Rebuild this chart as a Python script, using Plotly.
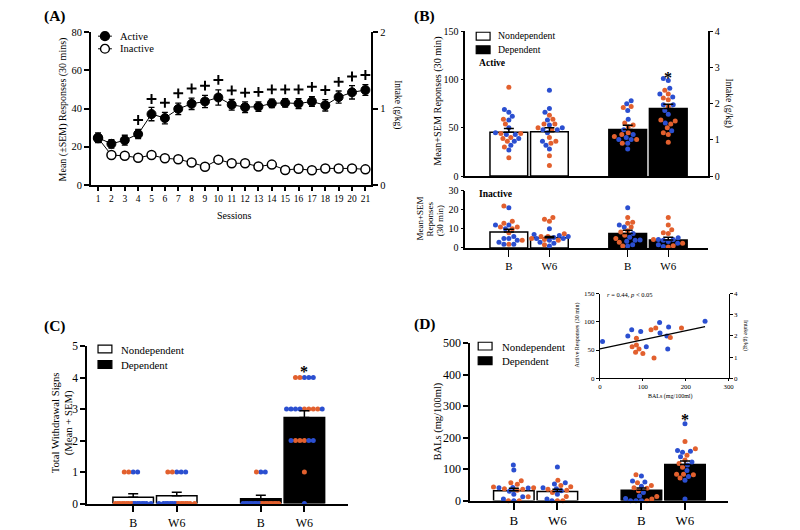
import numpy as np
import plotly.graph_objects as go

W, H = 800, 530
FONT = "Liberation Serif"
BLUE = "#2b4fd0"
ORANGE = "#e2602e"

# ---------------- Panel A data ----------------
SESSIONS = list(range(1, 22))
ACTIVE_MEAN = [24.7, 21.5, 23.4, 26.6, 37.1, 35.0, 39.8, 42.5, 43.7, 45.8, 42.0, 40.7,
               41.0, 42.7, 43.0, 42.6, 43.7, 41.7, 46.0, 48.5, 49.7]
ACTIVE_SEM = [2.5, 2.2, 2.6, 2.4, 3.5, 3.0, 3.0, 3.0, 3.2, 4.0, 2.8, 2.8, 2.5, 2.2,
              2.2, 2.6, 2.5, 3.0, 3.2, 3.5, 2.8]
INACTIVE_MEAN = [24.5, 15.6, 15.2, 14.2, 15.6, 13.9, 13.4, 11.7, 9.5, 13.2, 11.3, 11.3,
                 9.6, 10.6, 7.8, 8.4, 7.6, 8.6, 8.6, 8.6, 8.1]
INACTIVE_SEM = [1.5, 1.0, 1.0, 1.0, 1.2, 1.0, 1.0, 1.0, 1.0, 1.5, 1.0, 1.0, 0.8, 0.8,
                0.8, 0.8, 0.8, 0.8, 0.8, 0.8, 0.8]
PLUS_SESSIONS = list(range(4, 22))
PLUS_Y = [34, 45, 43, 48, 50.5, 52, 55, 49.5, 48.3, 48.7, 50, 50, 50, 51.4, 49.7, 54, 56.8, 57.6]

# ---------------- grouped bar panels ----------------
GROUP_LABELS = ["B", "W6", "B", "W6"]
GROUP_X = [0, 1, 2.93, 3.93]

# Panel B - active responses
B_ACT_MEAN = [45.3, 46.0, 48.3, 70.0]
B_ACT_SEM = [4.0, 4.0, 4.4, 4.5]
B_ACT_BLUE = [[69, 66, 62, 58, 50, 45, 43, 43, 39, 36, 32, 27],
              [89, 70, 66, 58, 53, 50, 48, 48, 45, 36, 32, 28],
              [78, 75, 68, 59, 48, 43, 40, 38, 38, 34, 28],
              [101, 99, 91, 85, 82, 74, 74, 68, 64, 55, 47]]
B_ACT_ORANGE = [[92, 59, 54, 44, 44, 40, 39, 36, 30, 19],
                [63, 59, 54, 54, 50, 48, 40, 36, 34, 21, 11],
                [72, 71, 55, 53, 51, 45, 43, 41, 38, 34],
                [89, 85, 81, 79, 72, 58, 57, 54, 50, 45, 43, 35]]
# Panel B - inactive responses
B_INA_MEAN = [8.4, 5.4, 7.6, 4.2]
B_INA_SEM = [1.4, 0.6, 1.7, 1.4]
B_INA_BLUE = [[21, 12, 12, 10, 6, 5, 5, 4, 3, 2, 2],
              [10, 7, 6.5, 6, 5.5, 5, 5, 4, 3, 2.5, 1],
              [21, 12, 11, 7.6, 5.6, 4.2, 4, 3.5, 1.7, 1],
              [5.4, 4.5, 4.5, 4, 3.4, 2.5, 1.7, 0.8]]
B_INA_ORANGE = [[22, 14, 13, 11, 11, 10, 8, 4, 2],
                [16, 15, 14, 7.5, 6, 6, 5, 4.5, 4, 1.7],
                [16, 13.5, 13, 11, 9, 8.4, 6.7, 5, 3, 1],
                [16, 12, 9.6, 8, 7.6, 4.5, 2.5, 1.2, 0.5]]

# Panel C - withdrawal signs
C_MEAN = [0.2, 0.25, 0.15, 2.73]
C_SEM = [0.11, 0.11, 0.11, 0.22]
C_BLUE = [[1, 1, 0, 0, 0, 0, 0, 0, 0, 0],
          [1, 1, 1, 0, 0, 0, 0, 0, 0, 0],
          [1, 1, 0, 0, 0, 0, 0, 0, 0, 0],
          [4, 4, 4, 3, 3, 3, 3, 3, 2, 2, 2, 0]]
C_ORANGE = [[1, 1, 0, 0, 0, 0, 0, 0, 0, 0],
            [1, 1, 0, 0, 0, 0, 0, 0, 0, 0],
            [1, 0, 0, 0, 0, 0, 0, 0, 0, 0],
            [4, 4, 3, 3, 3, 3, 2, 2, 2, 1]]

# Panel D - BALs
D_MEAN = [31, 29, 33, 115]
D_SEM = [8, 7, 7, 11]
D_BLUE = [[113, 97, 42, 40, 41, 30, 20, 12, 5, 0],
          [107, 57, 53, 41, 38, 31, 20, 5, 0],
          [78, 62, 59, 46, 26, 15, 7, 0, 0, 0],
          [244, 159, 157, 154, 139, 123, 113, 96, 77, 65, 5]]
D_ORANGE = [[63, 57, 52, 43, 41, 38, 36, 33, 12, 0, 0],
            [65, 48, 44, 36, 33, 26, 13, 0, 0],
            [82, 57, 48, 41, 39, 31, 13, 5, 0],
            [188, 165, 144, 129, 118, 106, 84, 84, 82, 72]]

# Inset correlation
INS_BLUE_X = [6, 65, 74, 95, 108, 139, 140, 156, 160, 158, 245]
INS_BLUE_Y = [65, 75, 86, 83, 56, 99, 80, 75, 91, 52, 101]
INS_ORANGE_X = [85, 75, 85, 91, 83, 100, 119, 130, 126, 164, 190]
INS_ORANGE_Y = [71, 56, 59, 52, 46, 44, 86, 89, 36, 72, 89]


def P(x, y):
    return x / W, 1 - y / H


def mix(blue, orange):
    vals, cols = [], []
    n = max(len(blue), len(orange))
    for i in range(n):
        if i < len(blue):
            vals.append(blue[i]); cols.append(BLUE)
        if i < len(orange):
            vals.append(orange[i]); cols.append(ORANGE)
    return vals, cols


def swarm(vals, xscale, yscale, d=5.2, half=20.0):
    n = len(vals)
    order = sorted(range(n), key=lambda i: vals[i])
    cands = np.arange(-half, half + 0.01, 0.5)
    cands = cands[np.argsort(np.abs(cands), kind="stable")]
    placed = []
    off = [0.0] * n
    for i in order:
        y = vals[i] * yscale
        chosen, best, bestd = None, 0.0, -1.0
        for c in cands:
            md = min((np.hypot(c - px, y - py) for px, py in placed), default=1e9)
            if md >= d:
                chosen = c
                break
            if md > bestd + 1e-9:
                bestd, best = md, c
        if chosen is None:
            chosen = best
        placed.append((chosen, y))
        off[i] = chosen / xscale
    return off


fig = go.Figure()

# ---------------- Panel A ----------------
fig.add_trace(go.Scatter(
    x=SESSIONS, y=INACTIVE_MEAN, mode="lines+markers", name="Inactive", showlegend=False,
    line=dict(color="black", width=1),
    marker=dict(symbol="circle", size=9, color="white", line=dict(color="black", width=1.5)),
    error_y=dict(type="data", array=INACTIVE_SEM, color="black", thickness=1.3, width=3),
    xaxis="x", yaxis="y"))
fig.add_trace(go.Scatter(
    x=SESSIONS, y=ACTIVE_MEAN, mode="lines+markers", name="Active", showlegend=False,
    line=dict(color="black", width=1),
    marker=dict(symbol="circle", size=9, color="black", line=dict(color="black", width=1)),
    error_y=dict(type="data", array=ACTIVE_SEM, color="black", thickness=1.3, width=3),
    xaxis="x", yaxis="y"))
fig.add_trace(go.Scatter(
    x=PLUS_SESSIONS, y=PLUS_Y, mode="markers", showlegend=False,
    marker=dict(symbol="cross-thin", size=7, line=dict(color="black", width=2)),
    xaxis="x", yaxis="y"))


def bar_panel(blues, oranges, means, sems, xa, ya, xscale, yscale, d, half, bwidth=0.93):
    fig.add_trace(go.Bar(
        x=GROUP_X[:2], y=means[:2], width=bwidth, name="Nondependent", showlegend=False,
        marker=dict(color="white", line=dict(color="black", width=1.5)),
        xaxis=xa, yaxis=ya))
    fig.add_trace(go.Bar(
        x=GROUP_X[2:], y=means[2:], width=bwidth, name="Dependent", showlegend=False,
        marker=dict(color="black", line=dict(color="black", width=1.5)),
        xaxis=xa, yaxis=ya))
    for gi in range(4):
        vals, cols = mix(blues[gi], oranges[gi])
        off = swarm(vals, xscale, yscale, d=d, half=half)
        fig.add_trace(go.Scatter(
            x=[GROUP_X[gi] + o for o in off], y=vals, mode="markers", showlegend=False,
            marker=dict(size=5, color=cols, line=dict(width=0)),
            xaxis=xa, yaxis=ya, cliponaxis=False))
    fig.add_trace(go.Scatter(
        x=GROUP_X, y=means, mode="markers", showlegend=False,
        marker=dict(size=1, color="rgba(0,0,0,0)"),
        error_y=dict(type="data", symmetric=False, array=sems, arrayminus=[0] * 4,
                     color="black", thickness=1.5, width=5),
        xaxis=xa, yaxis=ya, cliponaxis=False))


bar_panel(B_ACT_BLUE, B_ACT_ORANGE, B_ACT_MEAN, B_ACT_SEM, "x2", "y3", 41, 149 / 150, 5.2, 20)
bar_panel(B_INA_BLUE, B_INA_ORANGE, B_INA_MEAN, B_INA_SEM, "x3", "y5", 41, 59 / 30, 5.0, 20)
bar_panel(C_BLUE, C_ORANGE, C_MEAN, C_SEM, "x4", "y6", 44, 162 / 5, 4.5, 20)
bar_panel(D_BLUE, D_ORANGE, D_MEAN, D_SEM, "x5", "y7", 44, 162 / 500, 5.2, 22)

# Inset scatter + regression
fig.add_trace(go.Scatter(x=INS_BLUE_X, y=INS_BLUE_Y, mode="markers", showlegend=False,
                         marker=dict(size=5, color=BLUE), xaxis="x6", yaxis="y8"))
fig.add_trace(go.Scatter(x=INS_ORANGE_X, y=INS_ORANGE_Y, mode="markers", showlegend=False,
                         marker=dict(size=5, color=ORANGE), xaxis="x6", yaxis="y8"))
allx = np.array(INS_BLUE_X + INS_ORANGE_X, dtype=float)
ally = np.array(INS_BLUE_Y + INS_ORANGE_Y, dtype=float)
k, b = np.polyfit(allx, ally, 1)
lx = np.array([0, allx.max()])
fig.add_trace(go.Scatter(x=lx, y=k * lx + b, mode="lines", showlegend=False,
                         line=dict(color="black", width=1.3), xaxis="x6", yaxis="y8"))

# empty traces so the secondary (intake) axes get drawn
for xa, ya in [("x", "y2"), ("x2", "y4"), ("x6", "y9")]:
    fig.add_trace(go.Scatter(x=[None], y=[None], mode="markers", showlegend=False,
                             hoverinfo="skip", xaxis=xa, yaxis=ya))


def ax(fs=11, lw=1.6, tl=5, **kw):
    base = dict(showline=True, linecolor="black", linewidth=lw, ticks="outside",
                tickcolor="black", tickwidth=lw * 0.9, ticklen=tl, showgrid=False,
                zeroline=False, tickangle=0, fixedrange=True,
                tickfont=dict(family=FONT, size=fs, color="black"))
    base.update(kw)
    return base


def dom(p0, p1):
    return [p0 / W, p1 / W]


def vdom(top, bottom):
    return [1 - bottom / H, 1 - top / H]


layout = dict(
    width=W, height=H, margin=dict(l=0, r=0, t=0, b=0), showlegend=False,
    paper_bgcolor="white", plot_bgcolor="rgba(0,0,0,0)", barmode="overlay",
    font=dict(family=FONT, color="black", size=10),
    # Panel A
    xaxis=ax(9.5, 2.0, 4, domain=dom(90, 373), range=[0.48, 21.44], tickvals=SESSIONS, anchor="y"),
    yaxis=ax(10.5, 2.0, 5, domain=vdom(26, 183), range=[0, 80], tickvals=[0, 20, 40, 60, 80], anchor="x"),
    yaxis2=ax(10.5, 2.0, 5, overlaying="y", side="right", anchor="x", range=[0, 2], tickvals=[0, 1, 2]),
    # Panel B top
    xaxis2=ax(10.5, 1.6, 0, domain=dom(468, 713), range=[-1.073, 4.906], ticks="",
              showticklabels=False, anchor="y3"),
    yaxis3=ax(10, 1.6, 3, domain=vdom(25, 174), range=[0, 150], tickvals=[0, 50, 100, 150], anchor="x2"),
    yaxis4=ax(10, 1.6, 3, overlaying="y3", side="right", anchor="x2", range=[0, 4],
              tickvals=[0, 1, 2, 3, 4]),
    # Panel B bottom
    xaxis3=ax(11, 1.6, 7, domain=dom(468, 713), range=[-1.073, 4.906], tickvals=GROUP_X,
              ticktext=GROUP_LABELS, anchor="y5"),
    yaxis5=ax(10, 1.6, 3, domain=vdom(189, 248), range=[0, 30], tickvals=[0, 10, 20, 30], anchor="x3"),
    # Panel C
    xaxis4=ax(12, 1.8, 7, domain=dom(86, 349), range=[-1.057, 4.92], tickvals=GROUP_X,
              ticktext=GROUP_LABELS, anchor="y6"),
    yaxis6=ax(11.5, 1.8, 5, domain=vdom(349, 511), range=[0, 5], tickvals=[0, 1, 2, 3, 4, 5], anchor="x4"),
    # Panel D
    xaxis5=ax(13, 1.8, 7, domain=dom(473, 733), range=[-1.0, 4.91], tickvals=GROUP_X,
              ticktext=GROUP_LABELS, anchor="y7"),
    yaxis7=ax(12, 1.8, 5, domain=vdom(346, 508), range=[0, 500],
              tickvals=[0, 100, 200, 300, 400, 500], anchor="x5"),
    # Inset
    xaxis6=ax(6.8, 1.0, 2, domain=dom(604, 734), range=[0, 300], tickvals=[0, 100, 200, 300], anchor="y8"),
    yaxis8=ax(7, 1.0, 3, domain=vdom(295, 382), range=[0, 150], tickvals=[0, 50, 100, 150], anchor="x6"),
    yaxis9=ax(7, 1.0, 3, overlaying="y8", side="right", anchor="x6", range=[0, 4],
              tickvals=[0, 1, 2, 3, 4]),
)

ann = []
shapes = []


def note(x, y, text, size=10, angle=0, bold=False, xanchor="center", yanchor="middle"):
    px, py = P(x, y)
    ann.append(dict(x=px, y=py, xref="paper", yref="paper", text=f"<b>{text}</b>" if bold else text,
                    showarrow=False, textangle=angle, xanchor=xanchor, yanchor=yanchor,
                    font=dict(family=FONT, size=size, color="black")))


def box(x0, y0, x1, y1, fill):
    shapes.append(dict(type="rect", xref="paper", yref="paper", x0=x0 / W, x1=x1 / W,
                       y0=1 - y1 / H, y1=1 - y0 / H, fillcolor=fill,
                       line=dict(color="black", width=1.2)))


# legend keys: panel A
for yk, fill in [(30, "black"), (43, "white")]:
    shapes.append(dict(type="line", xref="paper", yref="paper", x0=97 / W, x1=111 / W,
                       y0=1 - yk / H, y1=1 - yk / H, line=dict(color="black", width=1)))
    shapes.append(dict(type="circle", xref="paper", yref="paper", x0=99.5 / W, x1=108.5 / W,
                       y0=1 - (yk + 4.5) / H, y1=1 - (yk - 4.5) / H, fillcolor=fill,
                       line=dict(color="black", width=1.4)))
note(117, 30, "Active", 10.5, xanchor="left")
note(117, 43, "Inactive", 10.5, xanchor="left")

# legend keys: bar panels
for (bx, by0, by1, tx, ty0, ty1, fs) in [(479, 26, 40, 499, 29.5, 43.5, 9.8),
                                          (97, 348, 364, 118, 352.5, 368.5, 10.8),
                                          (481, 345, 360, 503, 349.5, 364.5, 10.8)]:
    box(bx, by0, bx + 14, by0 + 8, "white")
    box(bx, by1, bx + 14, by1 + 8, "black")
    note(tx, ty0, "Nondependent", fs, xanchor="left")
    note(tx, ty1, "Dependent", fs, xanchor="left")

note(54, 9, "(A)", 15.5, bold=True)
note(427, 9, "(B)", 15.5, bold=True)
note(54, 328, "(C)", 15.5, bold=True)
note(427, 326, "(D)", 15.5, bold=True)

note(62, 105, "Mean (±SEM) Responses (30 mins)", 10, angle=-90)
note(400, 100, "Intake (g/kg)", 9.5, angle=90)
note(235, 215, "Sessions", 10)

note(441, 97, "Mean+SEM Reponses (30 min)", 10.2, angle=-90)
note(734, 99, "Intake (g/kg)", 9.5, angle=90)
note(422, 218, "Mean+SEM", 9, angle=-90)
note(432, 218, "Reponses", 9, angle=-90)
note(442, 220, "(30 min)", 9, angle=-90)
note(480, 57, "Active", 9.6, bold=True, xanchor="left")
note(480, 192, "Inactive", 9.6, bold=True, xanchor="left")

note(61, 428, "Total Withdrawal Signs<br>(Mean + SEM)", 10.7, angle=-90)
note(440, 427, "BALs (mg/100ml)", 10.5, angle=-90)

note(581, 338, "Active Responses (30 min)", 6, angle=-90)
note(751, 338, "Intake (g/kg)", 6, angle=90)
note(675, 401, "BALs (mg/100ml)", 6)
note(609, 296, "<i>r</i> = 0.44, <i>p</i> &lt; 0.05", 6.5, xanchor="left")

# significance asterisks (data coords)
for xa, ya, yv in [("x2", "y3", 91.6), ("x4", "y6", 3.86), ("x5", "y7", 225)]:
    ann.append(dict(x=GROUP_X[3], y=yv, xref=xa, yref=ya, text="<b>*</b>", showarrow=False,
                    yanchor="bottom", font=dict(family=FONT, size=16, color="black")))

layout["annotations"] = ann
layout["shapes"] = shapes
fig.update_layout(**layout)
fig.write_html("out.html")
